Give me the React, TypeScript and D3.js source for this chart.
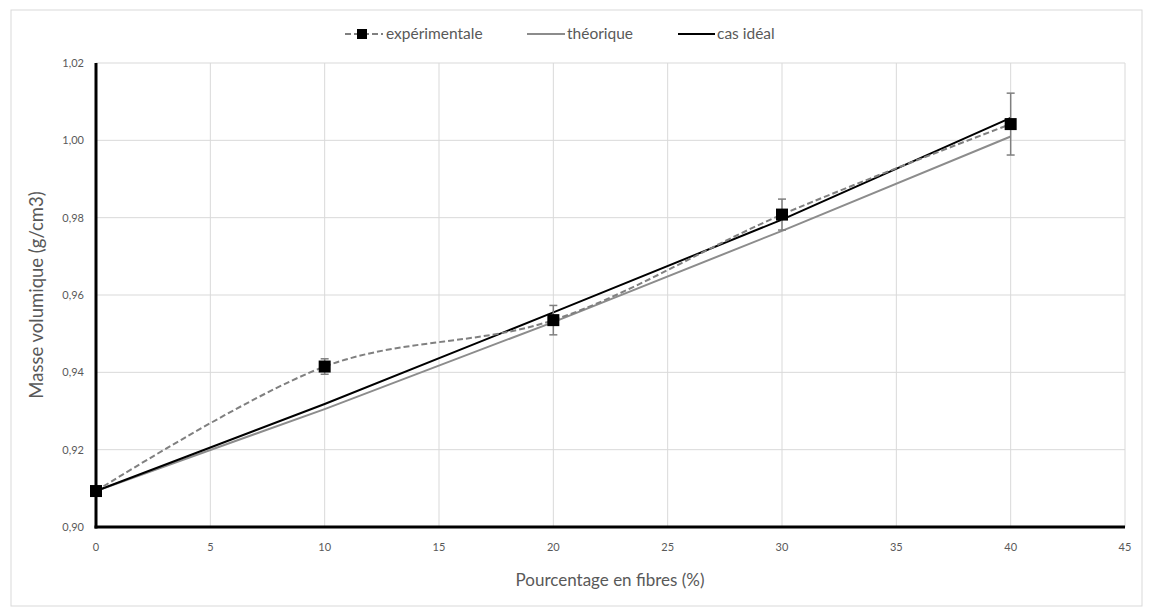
import React from "react";
import * as d3 from "d3";

const xPercent = [0, 10, 20, 30, 40];
const experimental = [0.9093, 0.9415, 0.9535, 0.9808, 1.0042];
const experimentalErr = [0, 0.002, 0.0038, 0.004, 0.008];
const theoretical = [0.9093, 0.9305, 0.953, 0.9766, 1.001];
const ideal = [0.9093, 0.9318, 0.9555, 0.9795, 1.0058];
const xTicks = [0, 5, 10, 15, 20, 25, 30, 35, 40, 45];
const yTicks = [0.9, 0.92, 0.94, 0.96, 0.98, 1.0, 1.02];

const W = 1153;
const H = 616;
const FONT = "Lato, 'Open Sans', sans-serif";

export default function App() {
  const x = d3.scaleLinear().domain([0, 45]).range([96, 1125]);
  const y = d3.scaleLinear().domain([0.9, 1.02]).range([527, 63]);
  const fmt = (v: number) => v.toFixed(2).replace(".", ",");

  const straight = d3
    .line<number>()
    .x((_, i) => x(xPercent[i]))
    .y((d) => y(d));
  const smooth = d3
    .line<number>()
    .x((_, i) => x(xPercent[i]))
    .y((d) => y(d))
    .curve(d3.curveCardinal.tension(0));

  return (
    <svg
      width={W}
      height={H}
      style={{ position: "absolute", left: 0, top: 0, fontFamily: FONT }}
    >
      <rect x={0} y={0} width={W} height={H} fill="#fff" />
      <rect x={11} y={10} width={1131} height={596} fill="none" stroke="#d9d9d9" strokeWidth={1} />
      {/* grid */}
      {xTicks.map((t) => (
        <line key={"gx" + t} x1={x(t)} x2={x(t)} y1={y(1.02)} y2={y(0.9)} stroke="#d9d9d9" strokeWidth={1} />
      ))}
      {yTicks.map((t) => (
        <line key={"gy" + t} x1={x(0)} x2={x(45)} y1={y(t)} y2={y(t)} stroke="#d9d9d9" strokeWidth={1} />
      ))}
      {/* axes */}
      <line x1={x(0)} x2={x(0)} y1={y(1.02)} y2={y(0.9) + 1.5} stroke="#000" strokeWidth={3} />
      <line x1={x(0) - 1.5} x2={x(45)} y1={y(0.9)} y2={y(0.9)} stroke="#000" strokeWidth={3} />
      {/* tick labels */}
      {yTicks.map((t) => (
        <text key={"ty" + t} x={84} y={y(t)} dy="0.35em" textAnchor="end" fontSize={11} fill="#595959">
          {fmt(t)}
        </text>
      ))}
      {xTicks.map((t) => (
        <text key={"tx" + t} x={x(t)} y={551} textAnchor="middle" fontSize={11} fill="#595959">
          {t}
        </text>
      ))}
      {/* axis titles */}
      <text x={610} y={586} textAnchor="middle" fontSize={17} fill="#595959">
        Pourcentage en fibres (%)
      </text>
      <text
        transform={`translate(43,${(y(0.9) + y(1.02)) / 2}) rotate(-90)`}
        textAnchor="middle"
        fontSize={18.5}
        fill="#595959"
      >
        Masse volumique (g/cm3)
      </text>
      {/* series */}
      <path d={straight(theoretical) || ""} fill="none" stroke="#8c8c8c" strokeWidth={2} />
      <path d={straight(ideal) || ""} fill="none" stroke="#000" strokeWidth={2} />
      <path d={smooth(experimental) || ""} fill="none" stroke="#808080" strokeWidth={2} strokeDasharray="6,3" />
      {/* error bars */}
      {experimental.map((v, i) =>
        experimentalErr[i] > 0 ? (
          <g key={"e" + i} stroke="#7f7f7f" strokeWidth={1.5}>
            <line x1={x(xPercent[i])} x2={x(xPercent[i])} y1={y(v + experimentalErr[i])} y2={y(v - experimentalErr[i])} />
            <line x1={x(xPercent[i]) - 4} x2={x(xPercent[i]) + 4} y1={y(v + experimentalErr[i])} y2={y(v + experimentalErr[i])} />
            <line x1={x(xPercent[i]) - 4} x2={x(xPercent[i]) + 4} y1={y(v - experimentalErr[i])} y2={y(v - experimentalErr[i])} />
          </g>
        ) : null
      )}
      {experimental.map((v, i) => (
        <rect key={"m" + i} x={x(xPercent[i]) - 6} y={y(v) - 6} width={12} height={12} fill="#000" />
      ))}
      {/* legend */}
      <g fontSize={15.5} fill="#595959">
        <line x1={345} x2={383} y1={34} y2={34} stroke="#808080" strokeWidth={2} strokeDasharray="6,3" />
        <rect x={357} y={29} width={10} height={10} fill="#000" />
        <text x={386} y={34} dy="0.35em">expérimentale</text>
        <line x1={527} x2={565} y1={34} y2={34} stroke="#8c8c8c" strokeWidth={2} />
        <text x={567} y={34} dy="0.35em">théorique</text>
        <line x1={678} x2={715} y1={34} y2={34} stroke="#000" strokeWidth={2} />
        <text x={717} y={34} dy="0.35em">cas idéal</text>
      </g>
    </svg>
  );
}
